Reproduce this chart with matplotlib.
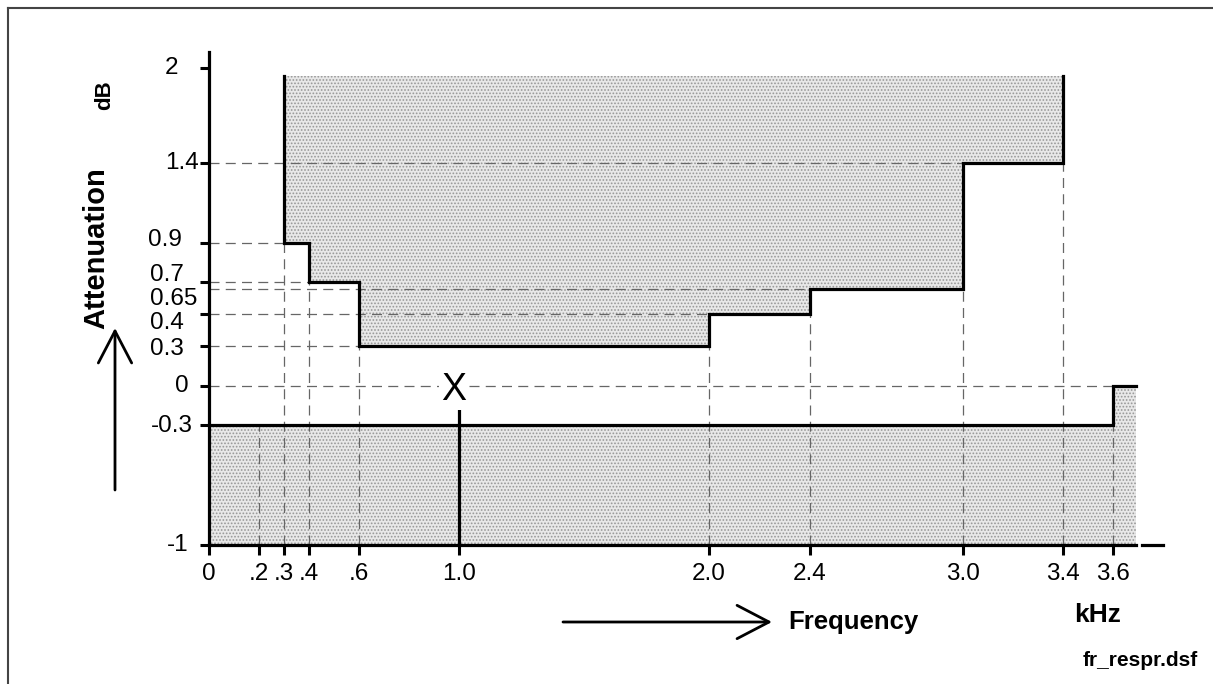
import numpy as np
import matplotlib.pyplot as plt
from matplotlib.lines import Line2D

plt.rcParams['font.family'] = ['Liberation Sans', 'DejaVu Sans']
plt.rcParams['hatch.linewidth'] = 0.8

# upper limit of the attenuation mask (kHz edges, dB levels)
upper_edges = [0.3, 0.4, 0.6, 2.0, 2.4, 3.0, 3.4]
upper_levels = [0.9, 0.7, 0.3, 0.4, 0.65, 1.4]
upper_top = 1.95

# lower limit of the mask
lower_edges = [0.0, 3.6, 3.69]
lower_levels = [-0.3, 0.0]
floor = -1.0

# ticks
x_ticks = [0, 0.2, 0.3, 0.4, 0.6, 1.0, 2.0, 2.4, 3.0, 3.4, 3.6]
x_labels = ['0', '.2', '.3', '.4', '.6', '1.0', '2.0', '2.4', '3.0', '3.4', '3.6']
y_ticks = [2, 1.4, 0.9, 0.7, 0.4, 0.3, 0, -0.3, -1]
y_labels = ['2', '1.4', '0.9', '0.7', '0.65', '0.4', '0.3', '0', '-0.3', '-1']

# dashed helper lines: (level, end freq) and (freq, top level)
h_guides = [(1.4, 3.4), (0.9, 0.3), (0.7, 0.6), (0.65, 3.0), (0.4, 2.4), (0.3, 2.0), (0.0, 3.6)]
v_guides = [(0.2, -0.3), (0.3, 0.9), (0.4, 0.7), (0.6, 0.3), (2.0, 0.3),
            (2.4, 0.4), (3.0, 0.65), (3.4, 1.4), (3.6, 0.0)]

# reference point 1 kHz / 0 dB
ref_f, ref_db = 1.0, 0.0
ref_line_top = -0.12

W, H = 1213, 684

# the drawing is not to scale: value -> pixel anchors
yv = [-1, -0.3, 0, 0.3, 0.4, 0.65, 0.7, 0.9, 1.4, 2.0, 2.1]
yp = [545, 425, 386, 346, 314, 289, 282, 243, 163, 68, 52]
xv = [0, 2.0, 2.4, 3.0, 3.4, 3.6, 3.8]
xp = [209, 709, 810, 963, 1063, 1113, 1163]
neg_yp = -np.array(yp, dtype=float)

def yfwd(v):
    return -np.interp(v, yv, yp)

def yinv(u):
    return np.interp(u, neg_yp, yv)

def xfwd(v):
    return np.interp(v, xv, xp)

def xinv(u):
    return np.interp(u, xp, xv)

fig = plt.figure(figsize=(W / 100, H / 100), dpi=100)
ax = fig.add_axes([209 / W, 1 - 545 / H, (1163 - 209) / W, (545 - 52) / H])
ax.set_xscale('function', functions=(xfwd, xinv))
ax.set_yscale('function', functions=(yfwd, yinv))
ax.set_xlim(0, 3.8)
ax.set_ylim(-1, 2.1)
ax.patch.set_alpha(0)

shade = dict(facecolor='#e8e8e8', edgecolor='#979797', hatch='.....', linewidth=0, zorder=1)

# upper mask
ux = np.repeat(upper_edges, 2)
uy = np.concatenate([[upper_top], np.repeat(upper_levels, 2), [upper_top]])
ax.fill(ux, uy, **shade)
ax.plot(ux, uy, color='black', lw=2.3, zorder=4, solid_joinstyle='miter')

# lower mask
lx = np.repeat(lower_edges, 2)[1:-1]
ly = np.repeat(lower_levels, 2)
ax.fill(np.concatenate([lx, [lx[-1], lx[0]]]), np.concatenate([ly, [floor, floor]]), **shade)
ax.plot(lx, ly, color='black', lw=2.3, zorder=4, solid_joinstyle='miter')

# guides
for lev, xe in h_guides:
    ax.plot([0, xe], [lev, lev], color='#666666', lw=0.9, dashes=(8, 5), zorder=2)
for xg, yt in v_guides:
    ax.plot([xg, xg], [floor, yt], color='#666666', lw=0.9, dashes=(8, 5), zorder=2)

# reference point
ax.plot([ref_f, ref_f], [floor, ref_line_top], color='black', lw=2.3, zorder=4)
ax.annotate('X', (ref_f, ref_db), xytext=(-4, -3), textcoords='offset points',
            ha='center', va='center', fontsize=27, zorder=5,
            bbox=dict(facecolor='white', edgecolor='none', pad=1))

# axes
for s in ['top', 'right']:
    ax.spines[s].set_visible(False)
ax.spines['left'].set_linewidth(2.3)
ax.spines['bottom'].set_linewidth(2.3)
ax.spines['bottom'].set_bounds(0, 3.69)
ax.plot([3.715, 3.8], [floor, floor], color='black', lw=2.3, clip_on=False, zorder=4)
ax.spines['left'].set_zorder(4)
ax.spines['bottom'].set_zorder(4)

ax.set_xticks(x_ticks)
ax.set_xticklabels(x_labels, fontsize=17.5)
ax.set_yticks(y_ticks)
ax.set_yticklabels([])
ax.tick_params(axis='x', direction='out', length=7, width=2.2, pad=6)
ax.tick_params(axis='y', direction='out', length=6.5, width=2.2)
ax.minorticks_off()

# y tick labels placed by hand (crowded ones are shifted)
lab_x = [165, 165, 148, 150, 150, 150, 150, 175, 151, 167]
lab_y = [68, 163, 240, 275, 299, 323, 349, 386, 426, 545]
for t, px, py in zip(y_labels, lab_x, lab_y):
    fig.text(px / W, 1 - py / H, t, ha='left', va='center', fontsize=17.5)

# axis titles and arrows
fig.text(96 / W, 1 - 248 / H, 'Attenuation', rotation=90, ha='center', va='center',
         fontsize=21, fontweight='bold')
fig.text(105 / W, 1 - 95 / H, 'dB', rotation=90, ha='center', va='center',
         fontsize=16, fontweight='bold')
fig.text(788 / W, 1 - 622 / H, 'Frequency', ha='left', va='center',
         fontsize=18.5, fontweight='bold')
fig.text(1098 / W, 1 - 615 / H, 'kHz', ha='center', va='center',
         fontsize=19, fontweight='bold')
fig.text(1140 / W, 1 - 661 / H, 'fr_respr.dsf', ha='center', va='center',
         fontsize=15, fontweight='bold')

arr = dict(arrowstyle='->, head_length=2.3, head_width=1.2', lw=2, color='black',
           mutation_scale=10, shrinkA=0, shrinkB=0)
ax.annotate('', xy=(115, H - 328), xytext=(115, H - 490), xycoords='figure pixels',
            textcoords='figure pixels', arrowprops=arr, annotation_clip=False)
ax.annotate('', xy=(772, H - 622), xytext=(563, H - 622), xycoords='figure pixels',
            textcoords='figure pixels', arrowprops=arr, annotation_clip=False)

# page frame
fig.add_artist(Line2D([8 / W, 1], [1 - 8 / H, 1 - 8 / H], color='#444444', lw=1.5))
fig.add_artist(Line2D([8 / W, 8 / W], [0, 1 - 8 / H], color='#444444', lw=1.5))

fig.savefig('out.png', dpi=100)
